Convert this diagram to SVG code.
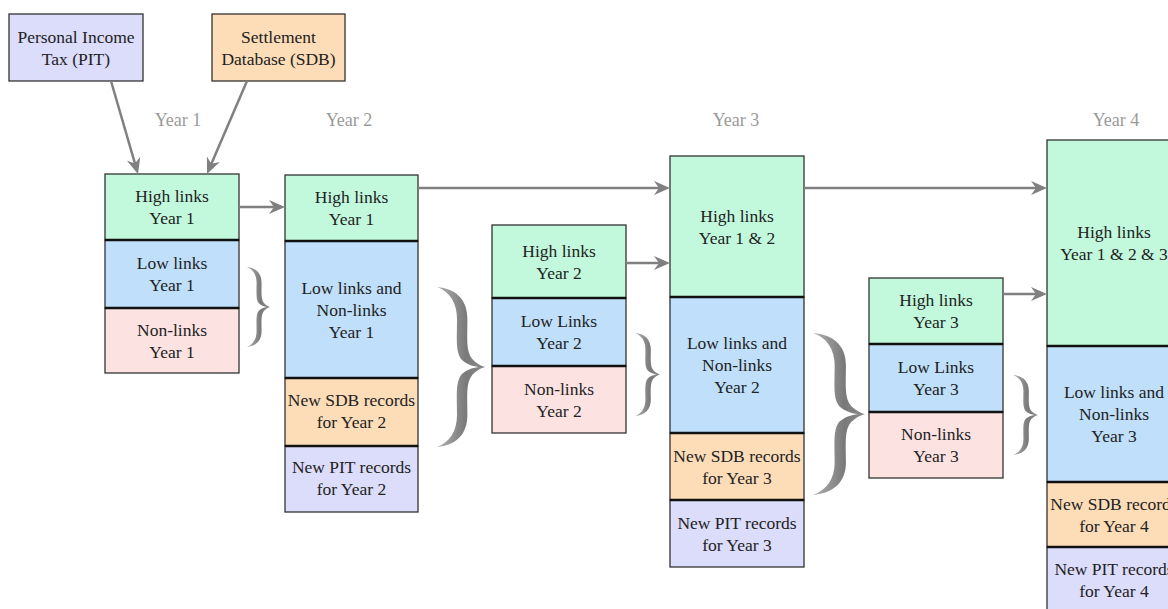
<svg xmlns="http://www.w3.org/2000/svg" xmlns:xlink="http://www.w3.org/1999/xlink" width="1168" height="609" viewBox="0 0 1168 609" font-family="'Liberation Serif', 'DejaVu Serif', serif">
  <style>
    .cell { stroke: #333; stroke-width: 1.3; }
    .div { stroke: #111; stroke-width: 2.6; }
    .hi { fill: #c2f9dd; }
    .lo { fill: #bfdffa; }
    .no { fill: #fde2e2; }
    .sdb { fill: #fddcb8; }
    .pit { fill: #dcdcfb; }
    text { font-size: 17.5px; fill: #222; text-anchor: middle; }
    text.yr { font-size: 18px; fill: #9a9a9a; }
    .conn { stroke: #808080; stroke-width: 2.5; fill: none; marker-end: url(#arrow); }
  </style>
  <defs>
    <marker id="arrow" markerUnits="userSpaceOnUse" markerWidth="16" markerHeight="14" refX="12" refY="7" orient="auto">
      <path d="M0,0 L16,7 L0,14 L5,7 Z" fill="#808080"/>
    </marker>
    <linearGradient id="braceFill" x1="0" y1="0" x2="1" y2="0">
      <stop offset="0" stop-color="#b0b0b0"/>
      <stop offset="0.6" stop-color="#7a7a7a"/>
      <stop offset="1" stop-color="#8a8a8a"/>
    </linearGradient>
    <!-- closing curly brace, 30 wide x 100 tall, point at (30,50) -->
    <path id="brace" fill="url(#braceFill)" d="M0,0 C12,1 19,8 19,20 C19,32 18,40 22,45 C25,48 28,49.5 30,50 C28,50.5 25,52 22,55 C18,60 19,68 19,80 C19,92 12,99 0,100 C8,97 12.5,90 12.5,80 C12.5,68 11.5,60 15,55 C18,52 22,50.5 26,50 C22,49.5 18,48 15,45 C11.5,40 12.5,32 12.5,20 C12.5,10 8,3 0,0 Z"/>
  </defs>

  <rect width="1168" height="609" fill="#fff"/>

  <!-- year headings -->
  <g id="year-labels">
    <text class="yr" x="178" y="126">Year 1</text>
    <text class="yr" x="349" y="126">Year 2</text>
    <text class="yr" x="736" y="126">Year 3</text>
    <text class="yr" x="1116" y="126">Year 4</text>
  </g>

  <!-- sources -->
  <g id="pit-source">
    <rect class="cell pit" x="9" y="14" width="134" height="67"/>
    <text x="76" y="43">Personal Income</text>
    <text x="76" y="65">Tax (PIT)</text>
  </g>
  <g id="sdb-source">
    <rect class="cell sdb" x="212" y="14" width="133" height="67"/>
    <text x="278.5" y="43">Settlement</text>
    <text x="278.5" y="65">Database (SDB)</text>
  </g>

  <!-- Year 1 column -->
  <g id="y1-high">
    <rect class="cell hi" x="105" y="174" width="134" height="66"/>
    <text x="172" y="202">High links</text>
    <text x="172" y="224">Year 1</text>
  </g>
  <g id="y1-low">
    <rect class="cell lo" x="105" y="240" width="134" height="68"/>
    <text x="172" y="269">Low links</text>
    <text x="172" y="291">Year 1</text>
  </g>
  <g id="y1-non">
    <rect class="cell no" x="105" y="308" width="134" height="65"/>
    <text x="172" y="335.5">Non-links</text>
    <text x="172" y="357.5">Year 1</text>
  </g>
  <line class="div" x1="105" y1="240" x2="239" y2="240"/>
  <line class="div" x1="105" y1="308" x2="239" y2="308"/>

  <!-- Year 2 combined column -->
  <g id="y2-high">
    <rect class="cell hi" x="285" y="175" width="133" height="66"/>
    <text x="351.5" y="203">High links</text>
    <text x="351.5" y="225">Year 1</text>
  </g>
  <g id="y2-lownon">
    <rect class="cell lo" x="285" y="241" width="133" height="137"/>
    <text x="351.5" y="293.5">Low links and</text>
    <text x="351.5" y="315.5">Non-links</text>
    <text x="351.5" y="337.5">Year 1</text>
  </g>
  <g id="y2-sdb">
    <rect class="cell sdb" x="285" y="378" width="133" height="68"/>
    <text x="351.5" y="406">New SDB records</text>
    <text x="351.5" y="428">for Year 2</text>
  </g>
  <g id="y2-pit">
    <rect class="cell pit" x="285" y="446" width="133" height="66"/>
    <text x="351.5" y="473">New PIT records</text>
    <text x="351.5" y="495">for Year 2</text>
  </g>
  <line class="div" x1="285" y1="241" x2="418" y2="241"/>
  <line class="div" x1="285" y1="378" x2="418" y2="378"/>
  <line class="div" x1="285" y1="446" x2="418" y2="446"/>

  <!-- Year 2 linkage column -->
  <g id="y2b-high">
    <rect class="cell hi" x="492" y="225" width="134" height="73"/>
    <text x="559" y="256.5">High links</text>
    <text x="559" y="278.5">Year 2</text>
  </g>
  <g id="y2b-low">
    <rect class="cell lo" x="492" y="298" width="134" height="68"/>
    <text x="559" y="327">Low Links</text>
    <text x="559" y="349">Year 2</text>
  </g>
  <g id="y2b-non">
    <rect class="cell no" x="492" y="366" width="134" height="67"/>
    <text x="559" y="394.5">Non-links</text>
    <text x="559" y="416.5">Year 2</text>
  </g>
  <line class="div" x1="492" y1="298" x2="626" y2="298"/>
  <line class="div" x1="492" y1="366" x2="626" y2="366"/>

  <!-- Year 3 combined column -->
  <g id="y3-high">
    <rect class="cell hi" x="670" y="156" width="134" height="141"/>
    <text x="737" y="221.5">High links</text>
    <text x="737" y="243.5">Year 1 &amp; 2</text>
  </g>
  <g id="y3-lownon">
    <rect class="cell lo" x="670" y="297" width="134" height="136"/>
    <text x="737" y="349">Low links and</text>
    <text x="737" y="371">Non-links</text>
    <text x="737" y="393">Year 2</text>
  </g>
  <g id="y3-sdb">
    <rect class="cell sdb" x="670" y="433" width="134" height="67"/>
    <text x="737" y="461.5">New SDB records</text>
    <text x="737" y="483.5">for Year 3</text>
  </g>
  <g id="y3-pit">
    <rect class="cell pit" x="670" y="500" width="134" height="67"/>
    <text x="737" y="528.5">New PIT records</text>
    <text x="737" y="550.5">for Year 3</text>
  </g>
  <line class="div" x1="670" y1="297" x2="804" y2="297"/>
  <line class="div" x1="670" y1="433" x2="804" y2="433"/>
  <line class="div" x1="670" y1="500" x2="804" y2="500"/>

  <!-- Year 3 linkage column -->
  <g id="y3b-high">
    <rect class="cell hi" x="869" y="278" width="134" height="66"/>
    <text x="936" y="306">High links</text>
    <text x="936" y="328">Year 3</text>
  </g>
  <g id="y3b-low">
    <rect class="cell lo" x="869" y="344" width="134" height="68"/>
    <text x="936" y="373">Low Links</text>
    <text x="936" y="395">Year 3</text>
  </g>
  <g id="y3b-non">
    <rect class="cell no" x="869" y="412" width="134" height="66"/>
    <text x="936" y="440">Non-links</text>
    <text x="936" y="462">Year 3</text>
  </g>
  <line class="div" x1="869" y1="344" x2="1003" y2="344"/>
  <line class="div" x1="869" y1="412" x2="1003" y2="412"/>

  <!-- Year 4 combined column (runs past the right edge) -->
  <g id="y4-high">
    <rect class="cell hi" x="1047" y="140" width="134" height="206"/>
    <text x="1114" y="238">High links</text>
    <text x="1114" y="260">Year 1 &amp; 2 &amp; 3</text>
  </g>
  <g id="y4-lownon">
    <rect class="cell lo" x="1047" y="346" width="134" height="136"/>
    <text x="1114" y="398">Low links and</text>
    <text x="1114" y="420">Non-links</text>
    <text x="1114" y="442">Year 3</text>
  </g>
  <g id="y4-sdb">
    <rect class="cell sdb" x="1047" y="482" width="134" height="65"/>
    <text x="1114" y="509.5">New SDB records</text>
    <text x="1114" y="531.5">for Year 4</text>
  </g>
  <g id="y4-pit">
    <rect class="cell pit" x="1047" y="547" width="134" height="66"/>
    <text x="1114" y="575">New PIT records</text>
    <text x="1114" y="597">for Year 4</text>
  </g>
  <line class="div" x1="1047" y1="346" x2="1181" y2="346"/>
  <line class="div" x1="1047" y1="482" x2="1181" y2="482"/>
  <line class="div" x1="1047" y1="547" x2="1181" y2="547"/>

  <!-- braces grouping records that carry forward -->
  <g id="braces">
    <use xlink:href="#brace" transform="translate(247,267) scale(0.7667,0.8)"/>
    <use xlink:href="#brace" transform="translate(437,287) scale(1.6,1.6)"/>
    <use xlink:href="#brace" transform="translate(635,333) scale(0.8333,0.83)"/>
    <use xlink:href="#brace" transform="translate(813,333) scale(1.7333,1.62)"/>
    <use xlink:href="#brace" transform="translate(1013,375) scale(0.8333,0.8)"/>
  </g>

  <!-- connectors -->
  <g id="connectors">
    <line class="conn" x1="111" y1="81" x2="136.9" y2="170.2"/>
    <line class="conn" x1="247" y1="81" x2="208.6" y2="170.3"/>
    <line class="conn" x1="239" y1="207" x2="281" y2="207"/>
    <line class="conn" x1="418" y1="188" x2="666" y2="188"/>
    <line class="conn" x1="626" y1="263" x2="666" y2="263"/>
    <line class="conn" x1="804" y1="188" x2="1043" y2="188"/>
    <line class="conn" x1="1003" y1="294" x2="1043" y2="294"/>
  </g>
</svg>
